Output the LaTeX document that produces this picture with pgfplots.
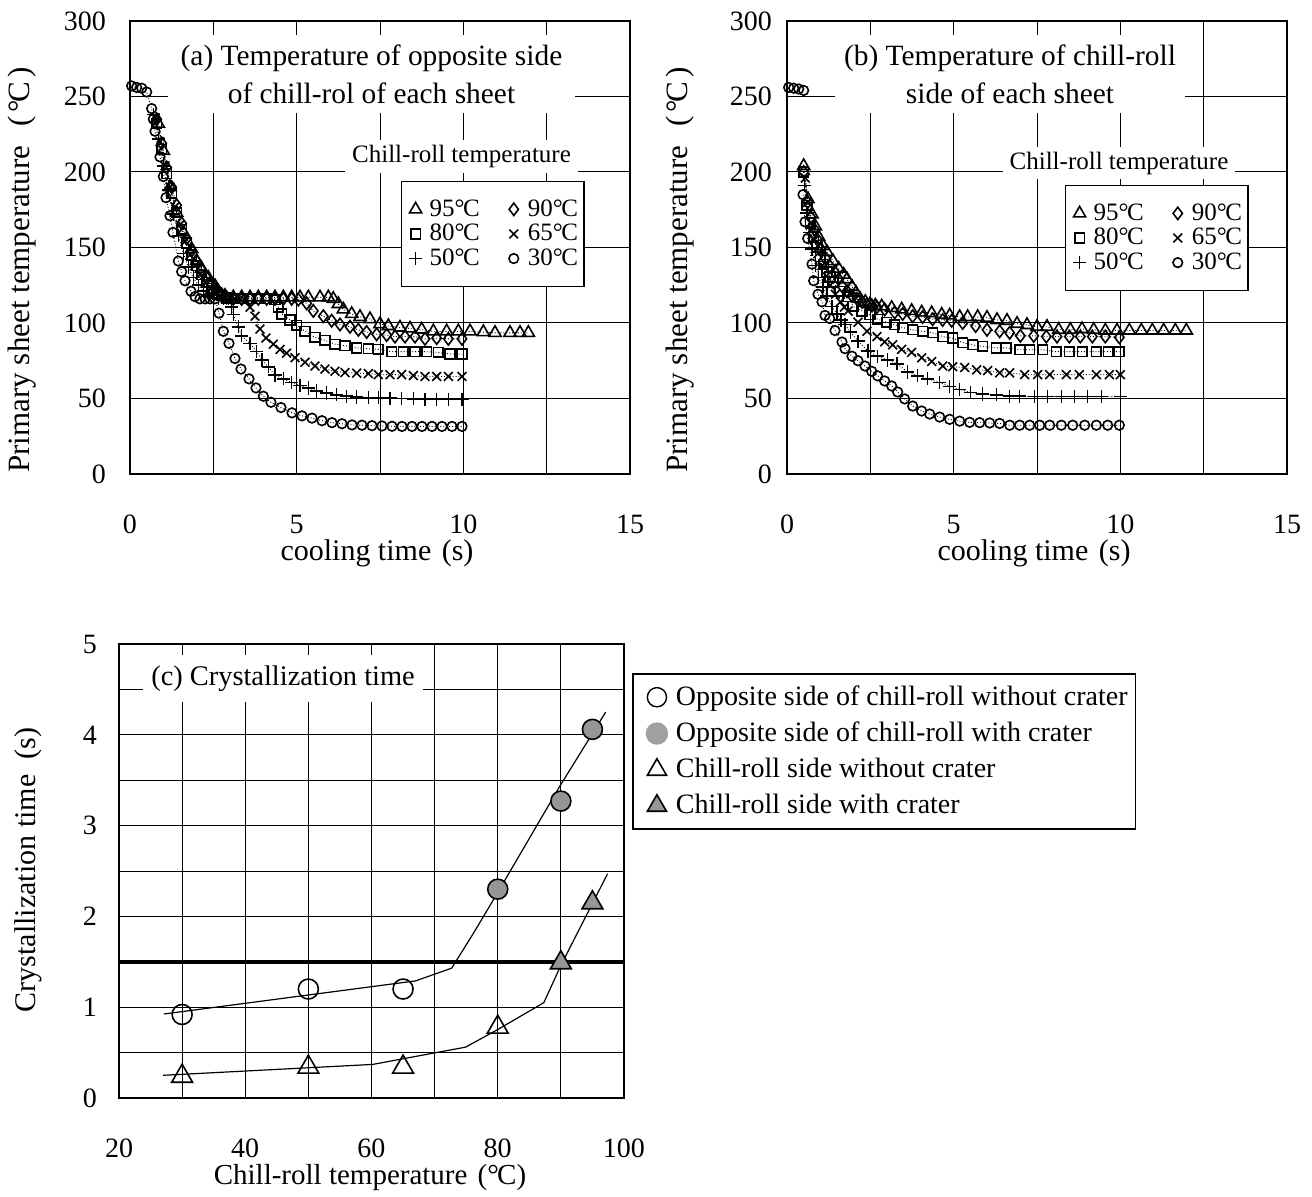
\documentclass[border=0pt]{standalone}
\usepackage{fontspec}
\setmainfont{Liberation Serif}
\usepackage{pgfplots}
\usepackage{pgfplotstable}
\pgfplotsset{compat=1.18}
\definecolor{mk}{RGB}{150,150,150}
\definecolor{lg}{RGB}{160,160,160}
\newcommand{\degC}{°\kern-0.06em C}

% ---------- panel (a) ----------
\pgfplotstableread{
t T
0.85 232
1.0 214
1.2 190
1.4 173
1.6 160
1.85 149
2.0 141
2.15 136
2.35 130
2.55 124.5
2.65 121
2.85 118
3.1 117
3.35 117
3.6 117
3.85 117
4.1 117
4.35 117
4.6 117
4.85 117
5.1 117
5.35 117
5.7 117
5.95 117
6.1 116
6.25 112.6
6.4 109
6.65 106
6.9 104
7.2 102.6
7.5 99.3
7.75 98
8.1 97
8.4 96.4
8.75 95.7
9.1 94.5
9.5 94.5
9.85 94.5
10.2 94.5
10.6 94
10.95 93.5
11.4 93.5
11.7 93.5
11.95 93.5
}\aNF
\pgfplotstableread{
t T
0.8 235
0.95 219
1.1 203
1.25 190
1.4 178
1.55 166
1.7 156
1.85 148
2.0 141
2.15 135
2.3 130
2.45 125.5
2.6 122
2.75 119
2.9 117
3.1 116
3.35 116
3.6 116
3.85 116
4.1 116
4.35 116
4.6 116
4.85 116
5.05 115.5
5.3 113
5.5 108
5.8 104.5
6.05 101.5
6.3 99
6.6 97.5
6.85 95.5
7.1 94
7.4 92.5
7.7 92
7.95 91
8.25 91
8.55 91
8.85 89.5
9.2 90
9.55 89.5
9.96 89.5
}\aNZ
\pgfplotstableread{
t T
0.8 232
0.95 215
1.1 199
1.25 186
1.4 173
1.55 162
1.7 153
1.85 145
2.0 138
2.15 132
2.3 127
2.45 123
2.6 120
2.75 118
2.9 116.5
3.1 116
3.35 116
3.6 116
3.85 116
4.1 116
4.35 115.5
4.45 110.5
4.55 106
4.8 102
5.0 98.5
5.25 94.5
5.55 90.5
5.85 88.5
6.15 86
6.45 85
6.8 83.5
7.15 83
7.45 82.5
7.85 81
8.2 81
8.55 81
8.9 81
9.25 80.5
9.6 79.5
9.96 79.5
}\aEZ
\pgfplotstableread{
t T
0.75 236
0.9 220
1.05 204
1.2 190
1.35 177
1.5 165
1.65 154
1.8 145
1.95 138
2.1 132
2.25 127
2.4 123
2.55 120
2.7 118
2.85 116.5
3.0 116
3.15 116
3.3 116
3.45 115
3.6 110.5
3.75 104.5
3.9 96
4.08 90
4.3 86
4.5 82.5
4.7 80
4.95 77
5.25 74
5.55 71.5
5.85 69.5
6.15 68
6.45 67.2
6.8 66.8
7.15 66.5
7.45 65.8
7.8 65.8
8.15 65.8
8.5 65.2
8.85 64.6
9.2 64.6
9.55 64.6
9.96 64.6
}\aSF
\pgfplotstableread{
t T
0.7 238
0.85 222
1.0 204
1.15 188
1.3 172
1.45 158
1.6 146
1.75 137
1.9 130
2.05 125
2.2 121
2.35 118
2.5 116.5
2.65 116
2.8 116
2.95 116
3.05 110.5
3.1 105.5
3.25 97.5
3.35 91.5
3.6 86.5
3.8 81
3.96 75.5
4.15 71
4.35 65.5
4.6 63
4.85 60.5
5.1 58.5
5.35 57
5.6 55
5.9 53.7
6.2 52.5
6.5 51.5
6.8 51
7.15 50.7
7.45 50.5
7.8 50.2
8.15 50
8.5 49.8
8.85 49.6
9.2 49.5
9.55 49.5
9.96 49.5
}\aFZ
\pgfplotstableread{
t T
0.05 257
0.2 256
0.35 255.5
0.5 253
0.65 242
0.7 235
0.75 227
0.9 210
1.0 197
1.08 183
1.2 171
1.29 160
1.45 141
1.55 134
1.65 128
1.83 121
1.95 117.5
2.1 116
2.25 116
2.4 116
2.55 116
2.67 106.5
2.8 94.5
2.97 86.5
3.15 76.5
3.33 69.5
3.57 63
3.78 57
4.0 51.5
4.23 47.5
4.53 44
4.86 40.5
5.16 38.5
5.46 37
5.76 35.3
6.06 34
6.36 33.3
6.66 32.5
6.96 32.3
7.26 32
7.56 31.8
7.86 31.6
8.16 31.5
8.46 31.5
8.76 31.5
9.06 31.5
9.36 31.5
9.66 31.5
9.96 31.5
}\aTZ

% ---------- panel (b) ----------
\pgfplotstableread{
t T
0.5 204
0.63 182
0.75 172
0.85 164
0.95 157
1.08 151
1.2 147
1.38 141
1.55 136
1.7 132
1.8 129
1.95 124
2.07 120
2.19 116
2.35 114
2.49 112.5
2.65 111.5
2.84 111
3.14 110
3.44 109
3.74 108
4.04 107
4.34 106.5
4.64 105.5
4.88 105
5.18 104
5.42 104
5.72 104
6.0 103.5
6.3 102
6.6 101.5
6.9 99.5
7.2 98.7
7.5 97.5
7.8 97.5
8.15 95.5
8.5 95.5
8.85 96
9.2 95.5
9.55 95
9.9 95
10.27 95
10.63 95
10.96 95
11.3 95
11.65 95
11.98 95
}\bNF
\pgfplotstableread{
t T
0.5 200
0.62 180
0.72 170
0.82 162
0.92 155
1.02 149
1.15 143
1.29 137.5
1.44 133.5
1.55 129
1.65 124.5
1.8 121
1.95 118
2.1 116
2.25 114
2.4 112.5
2.55 111.5
2.7 110.5
2.93 109
3.23 107
3.47 106
3.77 104.5
4.07 104
4.37 102.5
4.67 102
4.94 101.5
5.27 100
5.66 98
6.0 95.5
6.38 94.5
6.68 93.5
7.0 91.5
7.4 91.5
7.78 91
8.1 91
8.47 91
8.8 91
9.16 91
9.55 91
9.97 90.5
}\bNZ
\pgfplotstableread{
t T
0.5 200
0.6 178
0.7 166
0.8 157
0.9 150
1.0 144
1.1 139
1.2 134
1.29 130.5
1.38 127
1.59 121
1.83 117.5
1.98 111
2.25 108
2.49 105.5
2.72 102.5
2.99 100.5
3.23 99
3.47 97
3.77 95.5
4.07 94.5
4.37 93.5
4.67 91
4.97 90
5.27 87
5.57 85.5
5.87 84.5
6.28 83.5
6.58 83.5
6.98 82.3
7.28 82.3
7.67 82.3
8.08 81
8.47 81
8.86 81
9.28 81
9.64 81
9.97 81
}\bEZ
\pgfplotstableread{
t T
0.55 196
0.62 180
0.72 166
0.82 155
0.93 146
1.05 138
1.18 131
1.3 125
1.45 119
1.6 114
1.72 110.5
1.83 108
2.13 100.5
2.4 94.5
2.7 91
2.93 87.5
3.17 85.5
3.44 82.5
3.74 80.5
4.04 77
4.34 74.5
4.67 71.5
4.97 71
5.33 70.5
5.69 69
6.02 68.5
6.38 67
6.68 67
7.13 65.8
7.52 65.8
7.88 65.8
8.38 65.8
8.77 65.8
9.28 65.8
9.67 65.8
10.0 65.8
}\bSF
\pgfplotstableread{
t T
0.52 191
0.6 173
0.68 160
0.75 149
0.85 138
0.95 130
1.08 124
1.2 118
1.35 111
1.5 106
1.62 102
1.74 99
1.9 94
2.13 88
2.43 81.5
2.72 78
3.02 75.5
3.3 73
3.62 67.5
3.92 65
4.22 63
4.58 60.5
4.88 58
5.18 56
5.5 54
5.87 53
6.28 52.5
6.68 51.5
6.98 51.5
7.43 51.2
7.82 51.2
8.23 51.2
8.62 51.2
9.01 51.2
9.43 51.2
10.0 51.2
}\bFZ
\pgfplotstableread{
t T
0.48 185
0.54 167
0.62 156
0.75 139
0.8 128
0.93 119
1.05 114
1.14 105
1.28 103
1.44 95
1.65 87.4
1.74 83
1.95 78
2.13 75
2.34 71.5
2.54 68
2.72 65
2.93 61.6
3.14 58.3
3.32 54.3
3.53 49.7
3.77 45
4.04 41.7
4.28 39.7
4.58 37.7
4.88 36.2
5.18 35
5.48 34.2
5.78 34
6.08 33.8
6.38 33.5
6.68 32.3
6.98 32.3
7.28 32.3
7.58 32.3
7.88 32.3
8.23 32.3
8.57 32.3
8.93 32.3
9.28 32.3
9.62 32.3
9.97 32.3
}\bTZ

\pgfplotsset{
  tpanel/.style={
    scale only axis, width=250pt, height=226.5pt,
    xmin=0, xmax=15, ymin=0, ymax=300,
    xtick={0,5,10,15}, minor xtick={2.5,7.5,12.5}, ytick={0,50,...,300},
    grid=both,
    major grid style={black, line width=0.5pt},
    minor grid style={black, line width=0.5pt},
    major tick length=0pt, minor tick length=0pt,
    axis line style={black, line width=1pt},
    /pgf/number format/assume math mode=true,
    tick label style={font=\fontsize{14}{16}\selectfont},
    xticklabel style={yshift=-17pt},
    legend columns=2,
    legend style={draw=black, line width=0.6pt, fill=white,
      font=\fontsize{12.5}{13}\selectfont, row sep=-1.5pt,
      inner xsep=1pt, inner ysep=7pt,
      /tikz/every even column/.append style={column sep=9pt}},
    legend cell align=left,
    legend image code/.code={\path[draw=none] (0pt,0pt) -- (11pt,0pt);
      \draw[##1] plot coordinates {(6pt,0pt)};},
  },
  ln/.style={densely dotted, line width=0.45pt, black, no marks, forget plot},
  m95/.style={only marks, black, mark=triangle, mark size=3.5pt, mark options={solid, line width=0.8pt}},
  m90/.style={only marks, black, mark=diamond, mark size=3.1pt, mark options={solid, line width=0.8pt}},
  m80/.style={only marks, black, mark=square, mark size=2.4pt, mark options={solid, line width=0.8pt}},
  m65/.style={only marks, black, mark=x, mark size=3.1pt, mark options={solid, line width=0.8pt}},
  m50/.style={only marks, black, mark=+, mark size=3.3pt, mark options={solid, line width=0.8pt}},
  m30/.style={only marks, black, mark=o, mark size=2.4pt, mark options={solid, line width=0.8pt}},
}

\begin{document}
\begin{tikzpicture}
\path[use as bounding box] (0,0) rectangle (656pt,-598.5pt);

% ================= (a) =================
\begin{axis}[tpanel,
  at={(65pt,-237pt)}, anchor=south west,
  yticklabel style={xshift=-8.5pt},
  xlabel={cooling time\hspace{0.35em}(s)},
  ylabel={Primary sheet temperature\hspace{0.6em}(\hspace{0.12em}\degC\hspace{0.12em})},
  every axis x label/.style={at={(axis description cs:0.494,0)}, anchor=center, yshift=-39.5pt, font=\fontsize{15}{17}\selectfont},
  every axis y label/.style={at={(axis description cs:-0.216,0.45)}, anchor=center, rotate=90, font=\fontsize{15.5}{17}\selectfont},
  legend style={at={(axis description cs:0.542,0.647)}, anchor=north west},
]
\addplot[ln] table {\aNF}; \addplot[m95] table {\aNF}; \addlegendentry{95\degC}
\addplot[ln] table {\aNZ}; \addplot[m90] table {\aNZ}; \addlegendentry{90\degC}
\addplot[ln] table {\aEZ}; \addplot[m80] table {\aEZ}; \addlegendentry{80\degC}
\addplot[ln] table {\aSF}; \addplot[m65] table {\aSF}; \addlegendentry{65\degC}
\addplot[ln] table {\aFZ}; \addplot[m50] table {\aFZ}; \addlegendentry{50\degC}
\addplot[ln] table {\aTZ}; \addplot[m30] table {\aTZ}; \addlegendentry{30\degC}
\end{axis}

% ================= (b) =================
\begin{axis}[tpanel,
  at={(393.5pt,-237pt)}, anchor=south west,
  yticklabel style={xshift=-4pt},
  xlabel={cooling time\hspace{0.35em}(s)},
  ylabel={Primary sheet temperature\hspace{0.6em}(\hspace{0.12em}\degC\hspace{0.12em})},
  every axis x label/.style={at={(axis description cs:0.494,0)}, anchor=center, yshift=-39.5pt, font=\fontsize{15}{17}\selectfont},
  every axis y label/.style={at={(axis description cs:-0.214,0.45)}, anchor=center, rotate=90, font=\fontsize{15.5}{17}\selectfont},
  legend style={at={(axis description cs:0.556,0.638)}, anchor=north west},
]
\addplot[m30, forget plot] coordinates {(0.05,256) (0.2,255.5) (0.35,255) (0.5,254)};
\addplot[ln] table {\bNF}; \addplot[m95] table {\bNF}; \addlegendentry{95\degC}
\addplot[ln] table {\bNZ}; \addplot[m90] table {\bNZ}; \addlegendentry{90\degC}
\addplot[ln] table {\bEZ}; \addplot[m80] table {\bEZ}; \addlegendentry{80\degC}
\addplot[ln] table {\bSF}; \addplot[m65] table {\bSF}; \addlegendentry{65\degC}
\addplot[ln] table {\bFZ}; \addplot[m50] table {\bFZ}; \addlegendentry{50\degC}
\addplot[ln] table {\bTZ}; \addplot[m30] table {\bTZ}; \addlegendentry{30\degC}
\end{axis}

% ================= (c) =================
\begin{axis}[
  at={(59.5pt,-549pt)}, anchor=south west,
  scale only axis, width=252.5pt, height=227pt,
  xmin=20, xmax=100, ymin=0, ymax=5,
  xtick={20,40,...,100}, minor xtick={30,50,70,90},
  ytick={0,1,...,5}, minor ytick={0.5,1.5,...,4.5},
  grid=both,
  major grid style={black, line width=0.5pt},
  minor grid style={black, line width=0.5pt},
  major tick length=0pt, minor tick length=0pt,
  axis line style={black, line width=1pt},
  /pgf/number format/assume math mode=true,
  tick label style={font=\fontsize{14}{16}\selectfont},
  xticklabel style={yshift=-17pt},
  yticklabel style={xshift=-7.5pt},
  xlabel={Chill-roll temperature\hspace{0.35em}(\degC)},
  ylabel={Crystallization time\hspace{0.5em}(s)},
  every axis x label/.style={at={(axis description cs:0.497,0)}, anchor=center, yshift=-40pt, font=\fontsize{14.5}{17}\selectfont},
  every axis y label/.style={at={(axis description cs:-0.18,0.502)}, anchor=center, rotate=90, font=\fontsize{15}{17}\selectfont},
  legend style={at={(axis description cs:1.016,0.936)}, anchor=north west,
    draw=black, line width=0.8pt, fill=white,
    font=\fontsize{14}{16}\selectfont, row sep=2.8pt, inner xsep=2pt, inner ysep=4pt},
  legend cell align=left,
]
\addplot[only marks, black, mark=o, mark size=5pt, mark options={line width=0.8pt},
  legend image code/.code={\path[draw=none] (-1.5pt,0pt) -- (16pt,0pt);
    \draw[black, line width=0.7pt] (0.3cm,0cm) circle (4.8pt);}]
  coordinates {(30,0.92) (50,1.2) (65,1.2)};
\addlegendentry{Opposite side of chill-roll without crater}
\addplot[only marks, black, mark=*, mark size=5pt, mark options={line width=0.8pt, fill=mk, draw=black},
  legend image code/.code={\path[draw=none] (-1.5pt,0pt) -- (16pt,0pt);
    \fill[lg] (0.3cm,0cm) circle (5.2pt);}]
  coordinates {(80,2.3) (90,3.27) (95,4.06)};
\addlegendentry{Opposite side of chill-roll with crater}
\addplot[only marks, black, mark=triangle, mark size=6pt, mark options={line width=0.8pt},
  legend image code/.code={\path[draw=none] (-1.5pt,0pt) -- (16pt,0pt);
    \draw[black, line width=0.7pt, mark=triangle, mark size=5.5pt] plot coordinates {(0.3cm,0cm)};}]
  coordinates {(30,0.24) (50,0.34) (65,0.34) (80,0.78)};
\addlegendentry{Chill-roll side without crater}
\addplot[only marks, black, mark=triangle*, mark size=6pt, mark options={line width=0.8pt, fill=mk, draw=black},
  legend image code/.code={\path[draw=none] (-1.5pt,0pt) -- (16pt,0pt);
    \draw[color=lg, mark=triangle*, mark size=5.5pt] plot coordinates {(0.3cm,0cm)};}]
  coordinates {(90,1.49) (95,2.15)};
\addlegendentry{Chill-roll side with crater}
\addplot[black, line width=0.6pt, no marks, forget plot]
  coordinates {(27.1,0.925) (67,1.29) (72.7,1.43) (76.2,1.82) (79.8,2.24) (89.8,3.43) (97.1,4.25)};
\addplot[black, line width=0.6pt, no marks, forget plot]
  coordinates {(27,0.25) (60.2,0.37) (74.9,0.56) (79.9,0.75) (87.3,1.05) (90,1.46) (97.4,2.47)};
\addplot[black, line width=2.2pt, no marks, forget plot] coordinates {(20,1.5) (100,1.5)};
\end{axis}

% ---------- titles (text boxes) ----------
\node[fill=white, inner sep=0pt, minimum width=203.5pt, minimum height=39pt, align=center,
  font=\fontsize{14.7}{19}\selectfont] at (185.75pt,-37pt)
  {(a) Temperature of opposite side\\of chill-rol of each sheet};
\node[fill=white, inner sep=0pt, minimum width=175pt, minimum height=39pt, align=center,
  font=\fontsize{14.7}{19}\selectfont] at (505pt,-37pt)
  {(b) Temperature of chill-roll\\side of each sheet};
\node[fill=white, inner sep=0pt, minimum width=116.5pt, minimum height=16.5pt,
  font=\fontsize{12.5}{14}\selectfont] at (230.75pt,-78.25pt) {Chill-roll temperature};
\node[fill=white, inner sep=0pt, minimum width=116pt, minimum height=16pt,
  font=\fontsize{12.5}{14}\selectfont] at (559.5pt,-81.5pt) {Chill-roll temperature};
\node[fill=white, inner sep=0pt, minimum width=140pt, minimum height=23.5pt,
  font=\fontsize{14.2}{17}\selectfont] at (141.5pt,-339.25pt) {(c) Crystallization time};
\end{tikzpicture}
\end{document}
